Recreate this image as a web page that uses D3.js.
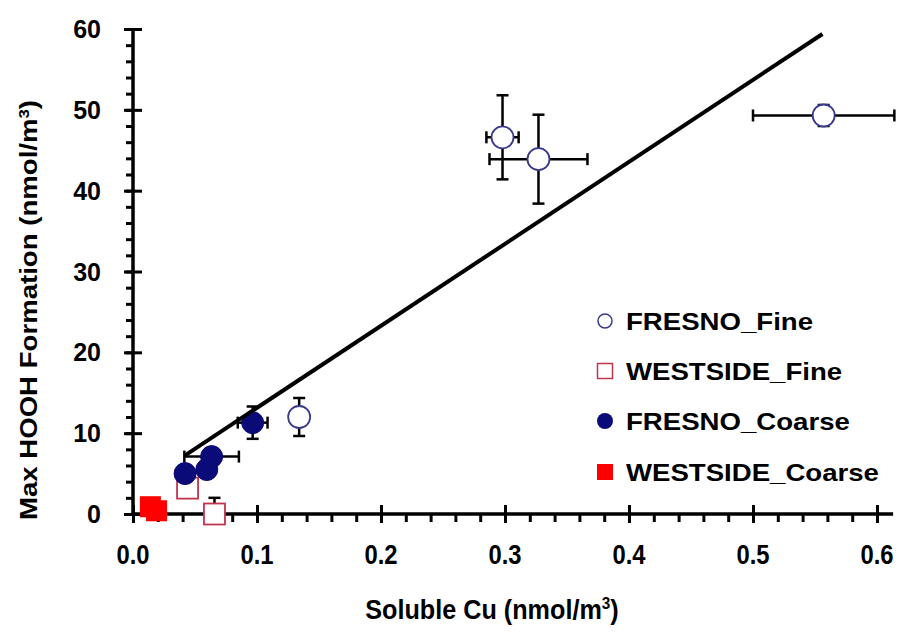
<!DOCTYPE html>
<html><head><meta charset="utf-8">
<script src="https://cdn.jsdelivr.net/npm/d3@7"></script>
<style>
html,body{margin:0;padding:0;background:#fff;}
text{font-family:"Liberation Sans",Arial,sans-serif;font-weight:bold;fill:#000;}
</style></head>
<body><svg id="c" width="904" height="637"></svg>
<script>
// ---- data ----
const xTicks = [0.0, 0.1, 0.2, 0.3, 0.4, 0.5, 0.6];
const yTicks = [0, 10, 20, 30, 40, 50, 60];
const seriesNames = ["FRESNO_Fine", "WESTSIDE_Fine", "FRESNO_Coarse", "WESTSIDE_Coarse"];

const fresnoFineX    = [0.298, 0.327, 0.557, 0.134];
const fresnoFineY    = [46.6, 43.9, 49.3, 12.0];
const fresnoFineXErr = [0.013, 0.0395, 0.057, 0];
const fresnoFineYErr = [5.2, 5.5, 1.3, 2.35];

const westsideFineX    = [0.044, 0.0657];
const westsideFineY    = [3.2, 0.0];
const westsideFineYErr = [0, 2.0];

const fresnoCoarseX    = [0.042, 0.0595, 0.0634, 0.0965];
const fresnoCoarseY    = [5.0, 5.5, 7.1, 11.3];
const fresnoCoarseXErr = [0, 0, 0.022, 0.012];
const fresnoCoarseYErr = [0, 0, 0, 2.0];

const westsideCoarseX = [0.014, 0.019];
const westsideCoarseY = [0.9, 0.4];

const trendSlope = 101.4, trendIntercept = 3.0;
const trendXRange = [0.042, 0.556];

// ---- chart ----
const svg = d3.select("#c");
const xMax = 0.613;
const x = d3.scaleLinear().domain([0, 0.62]).range([133, 901.8]);
const y = d3.scaleLinear().domain([0, 60]).range([514, 29]);
const NAVY = "#0a0a78", NAVY_LINE = "#3a3a8c", RED = "#ff0000", DKRED = "#c0364e";

// minor ticks
const xMinor = d3.range(0, 0.6001, 0.02);
const yMinor = d3.range(0, 60.01, 2);
const axStyle = g => { g.select(".domain").remove(); g.selectAll("line").attr("stroke","#000").attr("stroke-width",3); g.selectAll("text").remove(); };

svg.append("g").attr("transform","translate(0,514)")
  .call(d3.axisBottom(x).tickValues(xMinor).tickSize(8)).call(axStyle);
svg.append("g").attr("transform","translate(0,514)")
  .call(d3.axisBottom(x).tickValues(xTicks).tickSize(9)).call(axStyle);
svg.append("g").attr("transform","translate(0,514)")
  .call(d3.axisTop(x).tickValues(xTicks).tickSize(9)).call(axStyle);
svg.append("g").attr("transform","translate(133,0)")
  .call(d3.axisLeft(y).tickValues(yMinor).tickSize(7)).call(axStyle);
svg.append("g").attr("transform","translate(133,0)")
  .call(d3.axisLeft(y).tickValues(yTicks).tickSize(9)).call(axStyle);
svg.append("g").attr("transform","translate(133,0)")
  .call(d3.axisRight(y).tickValues(yTicks).tickSize(9)).call(axStyle);

// axis lines
svg.append("line").attr("x1",x(0)).attr("x2",x(xMax)).attr("y1",y(0)).attr("y2",y(0)).attr("stroke","#000").attr("stroke-width",3.5);
svg.append("line").attr("x1",x(0)).attr("x2",x(0)).attr("y1",y(0)+1.5).attr("y2",y(60)).attr("stroke","#000").attr("stroke-width",3.5);

// tick labels
svg.append("g").selectAll("text").data(yTicks).join("text")
  .attr("x", 101).attr("y", d => y(d)).attr("dy","0.36em")
  .attr("text-anchor","end").style("font-size","25px").text(d => d);
svg.append("g").selectAll("text").data(xTicks).join("text")
  .attr("transform", d => `translate(${x(d)},564) scale(0.85,1)`)
  .attr("text-anchor","middle").style("font-size","28px").text(d => d3.format(".1f")(d));

// axis titles
const xt = svg.append("text").attr("transform","translate(492,619) scale(0.9,1)").attr("text-anchor","middle").style("font-size","28px");
xt.append("tspan").text("Soluble Cu (nmol/m");
xt.append("tspan").attr("dy","-10").style("font-size","17px").text("3");
xt.append("tspan").attr("dy","10").text(")");
const yt = svg.append("text").attr("transform","translate(37,310) rotate(-90) scale(1.2,1)").attr("text-anchor","middle").style("font-size","23px");
yt.append("tspan").text("Max HOOH Formation (nmol/m");
yt.append("tspan").attr("dy","-8").style("font-size","14px").text("3");
yt.append("tspan").attr("dy","8").text(")");

// error bars (clipped to plot area)
svg.append("clipPath").attr("id","pa").append("rect").attr("x",x(0)).attr("y",0).attr("width",904).attr("height",y(0));
const eb = svg.append("g").attr("clip-path","url(#pa)").attr("stroke","#000").attr("stroke-width",2.5);
function errBars(xs, ys, xe, ye) {
  xs.forEach((xv, i) => {
    const yv = ys[i];
    if (ye && ye[i] > 0) {
      eb.append("line").attr("x1",x(xv)).attr("x2",x(xv)).attr("y1",y(yv-ye[i])).attr("y2",y(yv+ye[i]));
      [yv-ye[i], yv+ye[i]].forEach(v => eb.append("line").attr("x1",x(xv)-6).attr("x2",x(xv)+6).attr("y1",y(v)).attr("y2",y(v)));
    }
    if (xe && xe[i] > 0) {
      eb.append("line").attr("x1",x(xv-xe[i])).attr("x2",x(xv+xe[i])).attr("y1",y(yv)).attr("y2",y(yv));
      [xv-xe[i], xv+xe[i]].forEach(v => eb.append("line").attr("x1",x(v)).attr("x2",x(v)).attr("y1",y(yv)-6).attr("y2",y(yv)+6));
    }
  });
}
errBars(fresnoFineX, fresnoFineY, fresnoFineXErr, fresnoFineYErr);
errBars(westsideFineX, westsideFineY, null, westsideFineYErr);
errBars(fresnoCoarseX, fresnoCoarseY, fresnoCoarseXErr, fresnoCoarseYErr);

// markers
const R = 11, S = 21;
svg.append("g").selectAll("circle").data(d3.zip(fresnoFineX, fresnoFineY)).join("circle")
  .attr("cx", d => x(d[0])).attr("cy", d => y(d[1])).attr("r", R)
  .attr("fill","#fff").attr("stroke",NAVY_LINE).attr("stroke-width",1.8);
svg.append("g").selectAll("rect").data(d3.zip(westsideFineX, westsideFineY)).join("rect")
  .attr("x", d => x(d[0])-S/2).attr("y", d => y(d[1])-S/2).attr("width",S).attr("height",S)
  .attr("fill","#fff").attr("stroke",DKRED).attr("stroke-width",1.8);
svg.append("g").selectAll("circle").data(d3.zip(fresnoCoarseX, fresnoCoarseY)).join("circle")
  .attr("cx", d => x(d[0])).attr("cy", d => y(d[1])).attr("r", R)
  .attr("fill",NAVY).attr("stroke",NAVY).attr("stroke-width",1);
svg.append("g").selectAll("rect").data(d3.zip(westsideCoarseX, westsideCoarseY)).join("rect")
  .attr("x", d => x(d[0])-S/2).attr("y", d => y(d[1])-S/2).attr("width",S).attr("height",S)
  .attr("fill",RED);

// trend line
svg.append("path").datum(trendXRange.map(v => [v, trendSlope*v + trendIntercept]))
  .attr("d", d3.line().x(d => x(d[0])).y(d => y(d[1])))
  .attr("stroke","#000").attr("stroke-width",4).attr("fill","none");

// legend
const legY = [321, 371, 421, 472];
const lg = svg.append("g");
seriesNames.forEach((name, i) => {
  const cy = legY[i], cx = 605;
  if (i === 0) lg.append("circle").attr("cx",cx).attr("cy",cy).attr("r",7).attr("fill","#fff").attr("stroke",NAVY_LINE).attr("stroke-width",1.5);
  if (i === 1) lg.append("rect").attr("x",cx-7.5).attr("y",cy-7.5).attr("width",15).attr("height",15).attr("fill","#fff").attr("stroke",DKRED).attr("stroke-width",1.5);
  if (i === 2) lg.append("circle").attr("cx",cx).attr("cy",cy).attr("r",8).attr("fill",NAVY);
  if (i === 3) lg.append("rect").attr("x",cx-8).attr("y",cy-8).attr("width",16).attr("height",16).attr("fill",RED);
  lg.append("text").attr("transform",`translate(626,${cy+8.5}) scale(1.2,1)`).style("font-size","23px").text(name);
});
</script></body></html>
